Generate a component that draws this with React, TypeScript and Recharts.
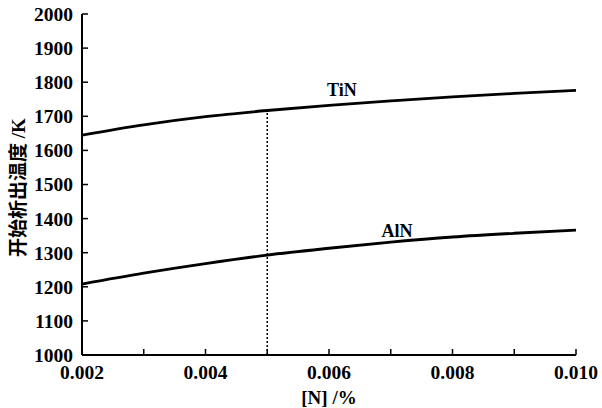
import React from 'react';
import { LineChart, Line, XAxis, YAxis, ReferenceLine, ReferenceDot } from 'recharts';

const nContent = [0.002, 0.003, 0.004, 0.005, 0.006, 0.007, 0.008, 0.009, 0.01];
const tinTemp = [1645, 1675, 1699, 1717, 1732, 1745, 1757, 1767, 1776];
const alnTemp = [1208, 1240, 1268, 1293, 1313, 1331, 1346, 1357, 1366];
const xTicks = [0.002, 0.003, 0.004, 0.005, 0.006, 0.007, 0.008, 0.009, 0.01];
const xLabeled = [0.002, 0.004, 0.006, 0.008, 0.01];
const yTicks = [1000, 1100, 1200, 1300, 1400, 1500, 1600, 1700, 1800, 1900, 2000];

const data = nContent.map((n, i) => ({ n, tin: tinTemp[i], aln: alnTemp[i] }));

const FONT = '"Liberation Serif", "Noto Sans CJK SC", serif';
const tickStyle = { fill: '#000', fontSize: 19.5, fontWeight: 700, fontFamily: FONT };

const App = () => {
  return (
    <div style={{ position: 'absolute', left: 0, top: 0, width: 602, height: 408, background: '#fff' }}>
      <LineChart width={602} height={408} data={data} margin={{ top: 14, right: 26, bottom: 0, left: 0 }}>
        {/* frame: top and right */}
        <XAxis xAxisId="top" orientation="top" dataKey="n" type="number" domain={[0.002, 0.01]} height={0}
          tick={false} tickLine={false} axisLine={{ stroke: '#000', strokeWidth: 2 }} />
        <YAxis yAxisId="right" orientation="right" type="number" domain={[1000, 2000]} width={0}
          tick={false} tickLine={false} axisLine={{ stroke: '#000', strokeWidth: 2 }} />

        <XAxis dataKey="n" type="number" domain={[0.002, 0.01]} ticks={xTicks} height={53}
          tickFormatter={(v: number) => (xLabeled.some((t) => Math.abs(t - v) < 1e-9) ? v.toFixed(3) : '')}
          tickSize={-6} tickMargin={16} tick={tickStyle}
          axisLine={{ stroke: '#000', strokeWidth: 2 }} tickLine={{ stroke: '#000', strokeWidth: 1.5 }}
          label={{ value: '[N] /%', position: 'insideBottom', offset: 4, style: { ...tickStyle, fontSize: 19 } }} />
        <YAxis type="number" domain={[1000, 2000]} ticks={yTicks} width={82}
          tickSize={-6} tickMargin={15} tick={tickStyle}
          axisLine={{ stroke: '#000', strokeWidth: 2 }} tickLine={{ stroke: '#000', strokeWidth: 1.5 }}
          label={{
            content: (props: any) => {
              const vb = props.viewBox || { x: 0, y: 14, width: 82, height: 341 };
              const cx = vb.x + 18;
              const cy = vb.y + vb.height / 2 + 3;
              return (
                <text x={cx} y={cy} transform={`rotate(-90 ${cx} ${cy})`} textAnchor="middle"
                  dominantBaseline="central" style={{ ...tickStyle, fontSize: 19 }}>
                  开始析出温度 /K
                </text>
              );
            },
          }} />

        <ReferenceLine segment={[{ x: 0.005, y: 1000 }, { x: 0.005, y: tinTemp[3] }]}
          stroke="#000" strokeWidth={1.5} strokeDasharray="2 2" />

        <Line type="monotone" dataKey="tin" stroke="#000" strokeWidth={2.8} dot={false} isAnimationActive={false} />
        <Line type="monotone" dataKey="aln" stroke="#000" strokeWidth={2.8} dot={false} isAnimationActive={false} />

        <ReferenceDot x={0.00621} y={1777} r={1} fill="none" stroke="none"
          label={{ value: 'TiN', position: 'center', style: { ...tickStyle, fontSize: 18 } }} />
        <ReferenceDot x={0.0071} y={1364} r={1} fill="none" stroke="none"
          label={{ value: 'AlN', position: 'center', style: { ...tickStyle, fontSize: 18 } }} />
      </LineChart>
    </div>
  );
};

export default App;
